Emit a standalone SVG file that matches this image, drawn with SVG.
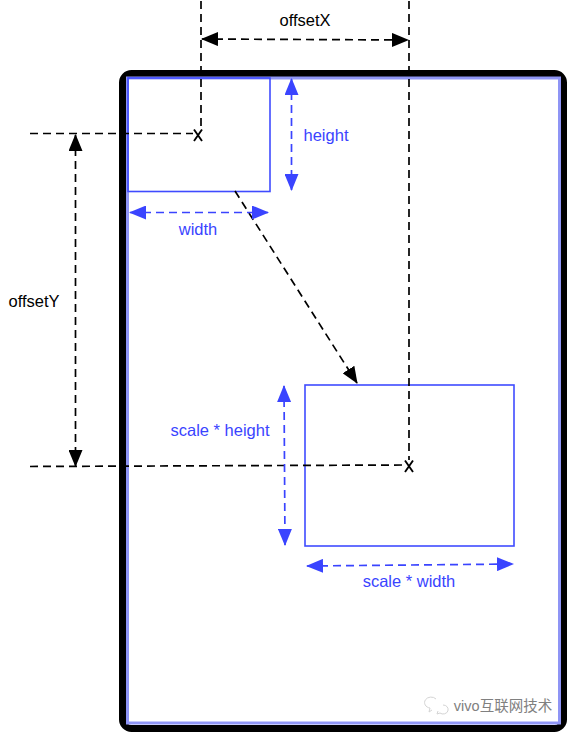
<svg xmlns="http://www.w3.org/2000/svg" width="570" height="733" viewBox="0 0 570 733">
<style>
text{font-family:"Liberation Sans","Noto Sans CJK SC",sans-serif;font-size:16.500px;text-anchor:middle}
.k{fill:#000}.b{fill:#3a44ff}
.box{fill:none;stroke:#3f4bff;stroke-width:1.600}
.dk,.db{fill:none;stroke-width:1.700;stroke-dasharray:8 5}
.dk{stroke:#000}.db{stroke:#3a44ff}
</style>
<defs>
<marker id="mk" viewBox="0 0 17 14" refX="16" refY="7" markerWidth="17" markerHeight="14" markerUnits="userSpaceOnUse" orient="auto-start-reverse"><path d="M0 0L17 7L0 14Z" fill="#000"/></marker>
<marker id="mb" viewBox="0 0 17 14" refX="16" refY="7" markerWidth="17" markerHeight="14" markerUnits="userSpaceOnUse" orient="auto-start-reverse"><path d="M0 0L17 7L0 14Z" fill="#3a44ff"/></marker>
</defs>
<rect width="570" height="733" fill="#fff"/>
<g id="frame">
<rect x="122.500" y="73.500" width="441" height="655" rx="9" fill="none" stroke="#000" stroke-width="7"/>
<rect x="127.500" y="78" width="432" height="645" fill="none" stroke="#8f95f5" stroke-width="3"/>
</g>
<g id="node-small"><rect class="box" x="128" y="78" width="142" height="113.500" fill="#fff"/><path d="M194 129.500L202 141M202 129.500L194 141" stroke="#000" stroke-width="1.900" fill="none"/></g>
<g id="node-large"><rect class="box" x="305" y="385" width="209" height="161"/><path d="M405 460.500L413 472M413 460.500L405 472" stroke="#000" stroke-width="1.900" fill="none"/></g>
<g id="connectors">
<path class="dk" d="M201 1V128"/>
<path class="dk" d="M409 1V460"/>
<path class="dk" d="M30 133.500H193"/>
<path class="dk" d="M30 466.500L404 465"/>
<path class="dk" d="M202 39L408 40" marker-start="url(#mk)" marker-end="url(#mk)"/>
<path class="dk" d="M75.500 135V466" marker-start="url(#mk)" marker-end="url(#mk)"/>
<path class="dk" d="M235 191L357 383" marker-end="url(#mk)"/>
<path class="db" d="M291.500 79V190" marker-start="url(#mb)" marker-end="url(#mb)"/>
<path class="db" d="M130 212.500H268" marker-start="url(#mb)" marker-end="url(#mb)"/>
<path class="db" d="M284 386L285 545" marker-start="url(#mb)" marker-end="url(#mb)"/>
<path class="db" d="M307 566L513 564" marker-start="url(#mb)" marker-end="url(#mb)"/>
</g>
<g id="labels">
<text class="k" x="305" y="26">offsetX</text>
<text class="k" x="34" y="307">offsetY</text>
<text class="b" x="326" y="141">height</text>
<text class="b" x="198" y="235">width</text>
<text class="b" x="220" y="436">scale * height</text>
<text class="b" x="409" y="587">scale * width</text>
</g>
<g id="watermark">
<path d="M436 699a6.500 5.500 0 1 0-6 9l-1 4 3-2M443 705a5 4.500 0 1 1-3 8l-3 1 1-3" fill="none" stroke="#d4d4d4" stroke-width="1"/>
<text x="503" y="711" style="font-size:14.500px" fill="#808080">vivo互联网技术</text>
</g>
</svg>
